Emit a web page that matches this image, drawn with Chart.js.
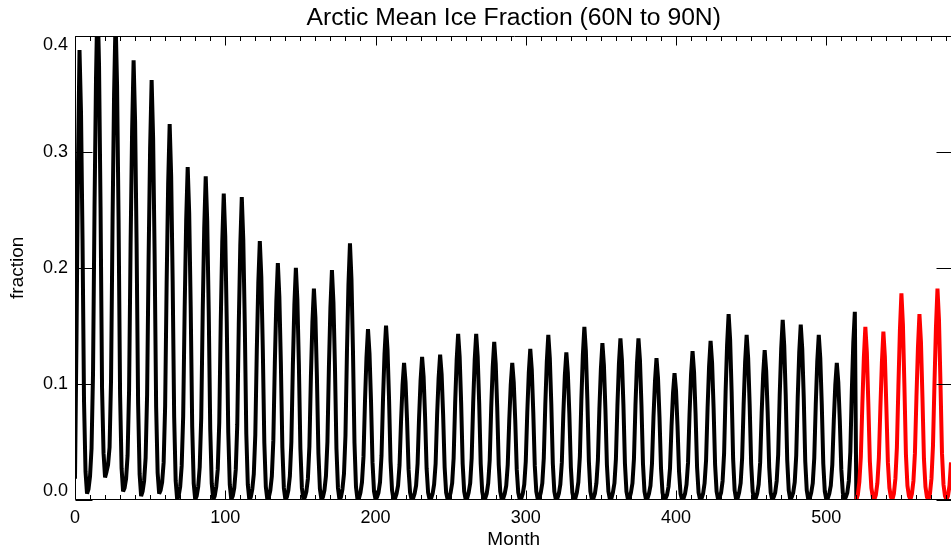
<!DOCTYPE html>
<html>
<head>
<meta charset="utf-8">
<title>Arctic Mean Ice Fraction</title>
<script src="https://cdn.jsdelivr.net/npm/chart.js@4.4.1/dist/chart.umd.min.js"></script>
<style>
  html, body { margin: 0; padding: 0; background: #fff; overflow: hidden; }
  #chart { display: block; }
</style>
</head>
<body>
<canvas id="chart" width="960" height="555"></canvas>
<script>
// monthly ice fraction, months 0..520, one row per year
const iceMonthly = [
  0.018, 0.140, 0.290, 0.388, 0.334, 0.225, 0.085, 0.024, 0.005, 0.009, 0.020, 0.044,
  0.109, 0.252, 0.365, 0.435, 0.374, 0.252, 0.096, 0.040, 0.019, 0.024, 0.030, 0.045,
  0.104, 0.241, 0.349, 0.415, 0.357, 0.241, 0.091, 0.027, 0.007, 0.010, 0.018, 0.038,
  0.095, 0.220, 0.318, 0.379, 0.326, 0.220, 0.083, 0.022, 0.003, 0.007, 0.016, 0.036,
  0.091, 0.210, 0.304, 0.362, 0.311, 0.210, 0.080, 0.023, 0.005, 0.008, 0.015, 0.032,
  0.081, 0.188, 0.272, 0.324, 0.279, 0.188, 0.071, 0.016, 0.000, 0.003, 0.011, 0.029,
  0.072, 0.166, 0.241, 0.287, 0.247, 0.166, 0.063, 0.014, 0.000, 0.003, 0.011, 0.028,
  0.070, 0.162, 0.234, 0.279, 0.240, 0.162, 0.061, 0.014, 0.000, 0.003, 0.011, 0.026,
  0.066, 0.153, 0.222, 0.264, 0.227, 0.153, 0.058, 0.013, 0.000, 0.003, 0.010, 0.026,
  0.065, 0.151, 0.219, 0.261, 0.224, 0.151, 0.057, 0.013, 0.000, 0.002, 0.009, 0.022,
  0.056, 0.129, 0.187, 0.223, 0.192, 0.129, 0.049, 0.011, 0.000, 0.002, 0.008, 0.020,
  0.051, 0.118, 0.171, 0.204, 0.175, 0.118, 0.045, 0.010, 0.000, 0.002, 0.008, 0.020,
  0.050, 0.116, 0.168, 0.200, 0.172, 0.116, 0.044, 0.010, 0.000, 0.002, 0.007, 0.018,
  0.046, 0.106, 0.153, 0.182, 0.157, 0.106, 0.040, 0.009, 0.000, 0.002, 0.008, 0.020,
  0.050, 0.115, 0.166, 0.198, 0.170, 0.115, 0.044, 0.010, 0.000, 0.002, 0.009, 0.022,
  0.055, 0.128, 0.186, 0.221, 0.190, 0.128, 0.049, 0.011, 0.000, 0.001, 0.006, 0.015,
  0.037, 0.085, 0.123, 0.147, 0.126, 0.085, 0.032, 0.007, 0.000, 0.002, 0.006, 0.015,
  0.038, 0.087, 0.126, 0.150, 0.129, 0.087, 0.033, 0.008, 0.000, 0.001, 0.005, 0.012,
  0.030, 0.068, 0.099, 0.118, 0.101, 0.068, 0.026, 0.006, 0.000, 0.001, 0.005, 0.012,
  0.031, 0.071, 0.103, 0.123, 0.106, 0.071, 0.027, 0.006, 0.000, 0.001, 0.005, 0.013,
  0.031, 0.073, 0.105, 0.125, 0.108, 0.073, 0.028, 0.006, 0.000, 0.001, 0.006, 0.014,
  0.036, 0.083, 0.120, 0.143, 0.123, 0.083, 0.031, 0.007, 0.000, 0.001, 0.006, 0.014,
  0.036, 0.083, 0.120, 0.143, 0.123, 0.083, 0.031, 0.007, 0.000, 0.001, 0.005, 0.014,
  0.034, 0.079, 0.114, 0.136, 0.117, 0.079, 0.030, 0.007, 0.000, 0.001, 0.005, 0.012,
  0.030, 0.068, 0.099, 0.118, 0.101, 0.068, 0.026, 0.006, 0.000, 0.001, 0.005, 0.013,
  0.033, 0.075, 0.109, 0.130, 0.112, 0.075, 0.029, 0.007, 0.000, 0.001, 0.006, 0.014,
  0.036, 0.082, 0.119, 0.142, 0.122, 0.082, 0.031, 0.007, 0.000, 0.001, 0.005, 0.013,
  0.032, 0.074, 0.107, 0.127, 0.109, 0.074, 0.028, 0.006, 0.000, 0.001, 0.006, 0.015,
  0.037, 0.086, 0.125, 0.149, 0.128, 0.086, 0.033, 0.007, 0.000, 0.001, 0.005, 0.014,
  0.034, 0.078, 0.113, 0.135, 0.116, 0.078, 0.030, 0.007, 0.000, 0.001, 0.006, 0.014,
  0.035, 0.081, 0.117, 0.139, 0.120, 0.081, 0.031, 0.007, 0.000, 0.001, 0.006, 0.014,
  0.035, 0.081, 0.117, 0.139, 0.120, 0.081, 0.031, 0.007, 0.000, 0.001, 0.005, 0.012,
  0.031, 0.071, 0.102, 0.122, 0.105, 0.071, 0.027, 0.006, 0.000, 0.001, 0.004, 0.011,
  0.027, 0.063, 0.092, 0.109, 0.094, 0.063, 0.024, 0.005, 0.000, 0.001, 0.005, 0.013,
  0.032, 0.074, 0.108, 0.128, 0.110, 0.074, 0.028, 0.006, 0.000, 0.001, 0.005, 0.014,
  0.034, 0.079, 0.115, 0.137, 0.118, 0.079, 0.030, 0.007, 0.000, 0.002, 0.006, 0.016,
  0.040, 0.093, 0.134, 0.160, 0.138, 0.093, 0.035, 0.008, 0.000, 0.001, 0.006, 0.014,
  0.036, 0.082, 0.119, 0.142, 0.122, 0.082, 0.031, 0.007, 0.000, 0.001, 0.005, 0.013,
  0.032, 0.075, 0.108, 0.129, 0.111, 0.075, 0.028, 0.006, 0.000, 0.002, 0.006, 0.016,
  0.039, 0.090, 0.130, 0.155, 0.133, 0.090, 0.034, 0.008, 0.000, 0.002, 0.006, 0.015,
  0.038, 0.088, 0.127, 0.151, 0.130, 0.088, 0.033, 0.008, 0.000, 0.001, 0.006, 0.014,
  0.036, 0.082, 0.119, 0.142, 0.122, 0.082, 0.031, 0.007, 0.000, 0.001, 0.005, 0.012,
  0.030, 0.068, 0.099, 0.118, 0.101, 0.068, 0.026, 0.006, 0.000, 0.002, 0.006, 0.016,
  0.041, 0.094, 0.136, 0.162, 0.000
];

// second run, starts at month 520
const extStart = 520;
const iceExtension = [
  0.000, 0.004, 0.015, 0.037, 0.082, 0.122, 0.149, 0.127, 0.082, 0.033, 0.010, 0.002,
  0.000, 0.004, 0.014, 0.036, 0.079, 0.118, 0.145, 0.123, 0.079, 0.032, 0.010, 0.002,
  0.000, 0.005, 0.018, 0.045, 0.098, 0.146, 0.178, 0.151, 0.098, 0.039, 0.012, 0.003,
  0.000, 0.005, 0.016, 0.040, 0.088, 0.131, 0.160, 0.136, 0.088, 0.035, 0.011, 0.002,
  0.000, 0.005, 0.018, 0.046, 0.100, 0.149, 0.182, 0.155, 0.100, 0.040, 0.013, 0.003,
  0.000, 0.003, 0.012, 0.032
];

const xMax = 584;
const xMajor = [0, 100, 200, 300, 400, 500];
const xMinorStep = 10;
const yMajor = [0, 0.1, 0.2, 0.3, 0.4];
const yLabels = ['0.0', '0.1', '0.2', '0.3', '0.4'];

const FONT = '"Liberation Sans", Arial, Helvetica, sans-serif';

// IDL-style box: inward ticks on all four sides, labels drawn by hand
const frame = {
  id: 'frame',
  afterDatasetsDraw(chart) {
    const { ctx, chartArea: a, scales: { x, y } } = chart;
    ctx.save();
    ctx.strokeStyle = '#000';
    ctx.fillStyle = '#000';
    ctx.lineWidth = 1;

    const L = Math.round(a.left) + 0.5, R = Math.round(a.right) + 0.5;
    const T = Math.round(a.top) + 0.5, B = Math.round(a.bottom) - 0.5;
    ctx.beginPath();
    ctx.moveTo(L, T); ctx.lineTo(R, T); ctx.lineTo(R, B); ctx.lineTo(L, B); ctx.closePath();

    for (let m = 0; m <= xMax; m += xMinorStep) {
      const px = Math.round(x.getPixelForValue(m)) + 0.5;
      const len = xMajor.includes(m) ? 9 : 4.5;
      ctx.moveTo(px, B); ctx.lineTo(px, B - len);
      ctx.moveTo(px, T); ctx.lineTo(px, T + len);
    }
    yMajor.forEach(v => {
      const py = Math.round(y.getPixelForValue(v)) + 0.5;
      ctx.moveTo(L, py); ctx.lineTo(L + 17, py);
      ctx.moveTo(R, py); ctx.lineTo(R - 17, py);
    });
    ctx.stroke();

    ctx.font = '18px ' + FONT;
    ctx.textAlign = 'center';
    ctx.textBaseline = 'middle';
    xMajor.forEach(m => ctx.fillText(String(m), x.getPixelForValue(m), 518));

    ctx.textAlign = 'right';
    yMajor.forEach((v, i) => {
      const py = y.getPixelForValue(v);
      if (v === y.max) { ctx.textBaseline = 'top'; ctx.fillText(yLabels[i], a.left - 7, py); }
      else if (v === y.min) { ctx.textBaseline = 'bottom'; ctx.fillText(yLabels[i], a.left - 7, py + 1); }
      else { ctx.textBaseline = 'middle'; ctx.fillText(yLabels[i], a.left - 7, py); }
    });

    ctx.font = '19px ' + FONT;
    ctx.textAlign = 'center';
    ctx.textBaseline = 'middle';
    ctx.fillText('Month', (a.left + a.right) / 2, 540);
    ctx.translate(18, (a.top + a.bottom) / 2);
    ctx.rotate(-Math.PI / 2);
    ctx.fillText('fraction', 0, 0);
    ctx.restore();
  }
};

const blackPts = iceMonthly.map((v, i) => ({ x: i, y: v }));
const redPts = iceExtension.map((v, i) => ({ x: extStart + i, y: v }));

new Chart(document.getElementById('chart'), {
  type: 'line',
  data: {
    datasets: [
      { data: redPts, borderColor: '#ff0000', order: 0 },
      { data: blackPts, borderColor: '#000000', order: 1 }
    ]
  },
  options: {
    responsive: false,
    animation: false,
    devicePixelRatio: 1,
    parsing: false,
    datasets: {
      line: {
        borderWidth: 4,
        pointRadius: 0,
        tension: 0,
        borderJoinStyle: 'bevel',
        borderCapStyle: 'butt',
        clip: 0
      }
    },
    layout: { padding: { left: 75, right: 7.5, top: 0, bottom: 55.5 } },
    plugins: {
      legend: { display: false },
      tooltip: { enabled: false },
      title: {
        display: true,
        text: 'Arctic Mean Ice Fraction (60N to 90N)',
        color: '#000',
        font: { family: FONT, size: 24.7, weight: 'normal' },
        padding: { top: 3.6, bottom: 2.8 }
      }
    },
    scales: {
      x: { type: 'linear', min: 0, max: xMax, display: false },
      y: { type: 'linear', min: 0, max: 0.4, display: false }
    }
  },
  plugins: [frame]
});
</script>
</body>
</html>
